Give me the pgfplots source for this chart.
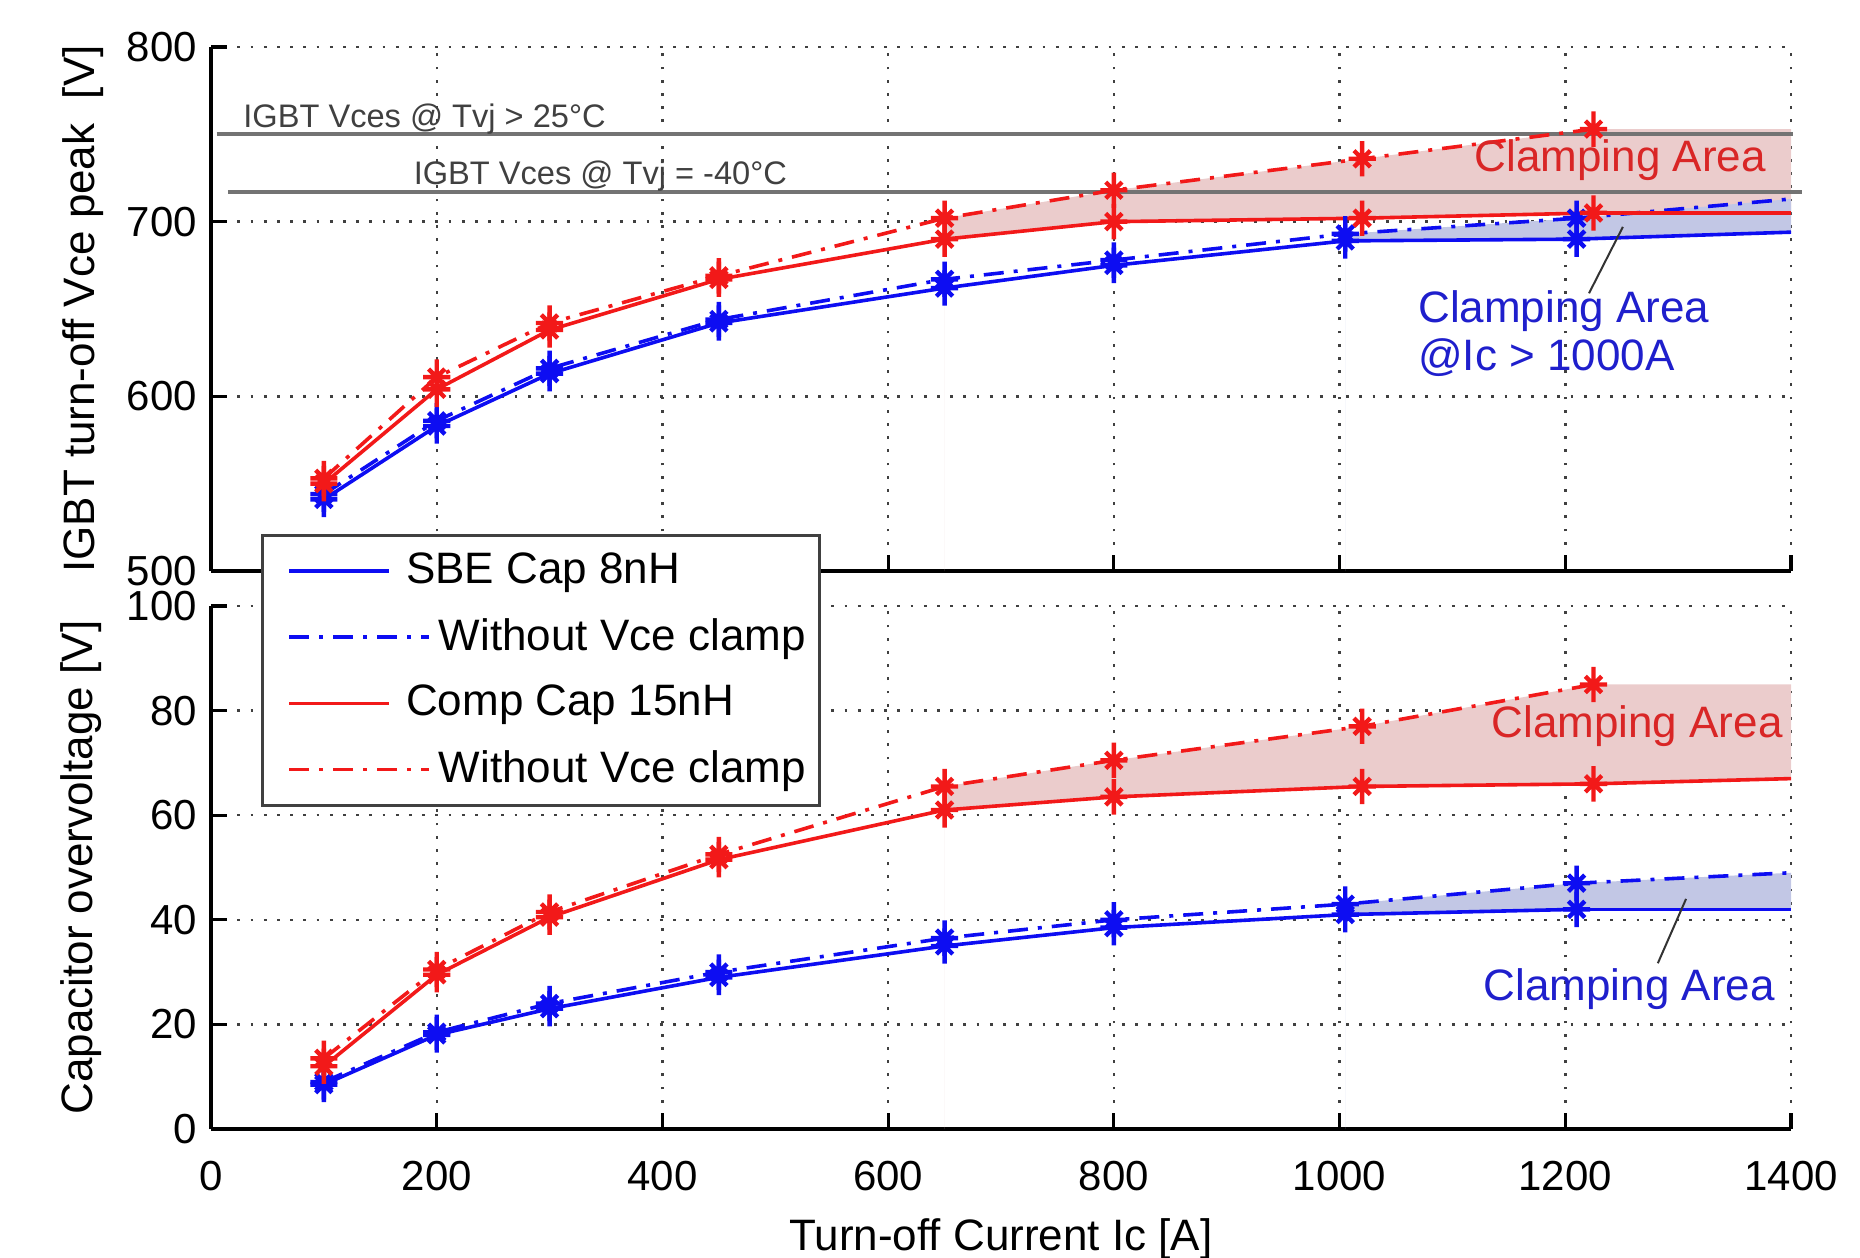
\documentclass[border=0pt]{standalone}
\usepackage{pgfplots}
\pgfplotsset{compat=1.18}
\usepackage{fontspec}
\setmainfont{Liberation Sans}
\definecolor{myblue}{rgb}{0.05,0.05,0.95}
\definecolor{myred}{rgb}{0.95,0.1,0.1}
\definecolor{fillred}{rgb}{0.92,0.80,0.80}
\definecolor{fillblue}{rgb}{0.76,0.78,0.90}
\definecolor{txtred}{rgb}{0.85,0.15,0.15}
\definecolor{txtblue}{rgb}{0.12,0.12,0.80}
\pgfdeclareplotmark{mstar}{%
  \pgfpathmoveto{\pgfqpoint{0pt}{1.3\pgfplotmarksize}}\pgfpathlineto{\pgfqpoint{0pt}{-1.3\pgfplotmarksize}}%
  \pgfpathmoveto{\pgfqpoint{\pgfplotmarksize}{0pt}}\pgfpathlineto{\pgfqpoint{-\pgfplotmarksize}{0pt}}%
  \pgfpathmoveto{\pgfqpoint{0.6\pgfplotmarksize}{0.6\pgfplotmarksize}}\pgfpathlineto{\pgfqpoint{-0.6\pgfplotmarksize}{-0.6\pgfplotmarksize}}%
  \pgfpathmoveto{\pgfqpoint{0.6\pgfplotmarksize}{-0.6\pgfplotmarksize}}\pgfpathlineto{\pgfqpoint{-0.6\pgfplotmarksize}{0.6\pgfplotmarksize}}%
  \pgfusepathqstroke}
\pgfplotsset{
  mybase/.style={
    scale only axis, width=395pt, anchor=south west,
    xmin=0, xmax=1400, xtick={0,200,...,1400},
    axis x line*=bottom, axis y line*=left, tick align=inside,
    grid=major, grid style={black!75, line width=0.6pt, dash pattern=on 0.7pt off 2.6pt},
    axis line style={black, line width=0.9pt},
    major tick length=4pt, every tick/.style={black, line width=0.8pt},
    tick label style={font=\fontsize{10.5}{12}\selectfont},
    xticklabel style={yshift=-4.4pt},
    label style={font=\fontsize{11}{13}\selectfont},
    /pgf/number format/assume math mode=true,
    /pgf/number format/1000 sep={},
  },
  sol/.style={line width=0.9pt, mark=mstar, mark size=3.4pt, mark options={solid, line width=1.1pt}},
  dd/.style={line width=0.9pt, dash pattern=on 5pt off 2.5pt on 1pt off 2.5pt, mark=mstar, mark size=3.4pt, mark options={solid, line width=1.1pt}},
  legS/.style={legend image code/.code={\path[draw=none,fill=none] (0pt,0pt) rectangle (40.2pt,0.1pt); \draw[##1] (5.2pt,0pt) -- (30.2pt,0pt);}},
  legL/.style={legend image code/.code={\path[draw=none,fill=none] (0pt,0pt) rectangle (40.2pt,0.1pt); \draw[##1] (5.2pt,0pt) -- (40.2pt,0pt);}},
}
\begin{document}
\begin{tikzpicture}
\useasboundingbox (0,0) rectangle (465pt,314.25pt);
% ---------------- top axis
\begin{axis}[mybase, at={(52.75pt,171.5pt)}, height=131pt,
  ymin=500, ymax=800, ytick={500,600,700,800}, xticklabels={}, clip=false,
  ylabel={IGBT turn-off Vce peak\ \ [V]},
  ylabel style={at={(axis description cs:-0.081,0.5)}, anchor=center}]
\addplot[fill=fillred, draw=none, forget plot] coordinates {
 (650,702) (800,718) (1020,736) (1225,753) (1400,753)
 (1400,705) (1225,705) (1020,702) (800,700) (650,690)} \closedcycle;
\addplot[fill=fillblue, draw=none, forget plot] coordinates {
 (1005,693) (1210,702) (1400,713)
 (1400,694) (1210,690) (1005,689)} \closedcycle;
\addplot[black!55, line width=1pt, forget plot] coordinates {(5,750) (1402,750)};
\addplot[black!55, line width=1pt, forget plot] coordinates {(15,717) (1410,717)};
\addplot[myblue, sol] coordinates {(100,541) (200,583) (300,613) (450,642) (650,662) (800,675) (1005,689) (1210,690)};
\addplot[myblue, line width=0.9pt, forget plot] coordinates {(1210,690) (1400,694)};
\addplot[myblue, dd] coordinates {(100,544) (200,586) (300,616) (450,644) (650,667) (800,678) (1005,693) (1210,702)};
\addplot[myblue, line width=0.9pt, dash pattern=on 5pt off 2.5pt on 1pt off 2.5pt, forget plot] coordinates {(1210,702) (1400,713)};
\addplot[myred, sol] coordinates {(100,550) (200,604) (300,638) (450,667) (650,690) (800,700) (1020,702) (1225,705)};
\addplot[myred, line width=0.9pt, forget plot] coordinates {(1225,705) (1400,705)};
\addplot[myred, dd] coordinates {(100,553) (200,611) (300,642) (450,669) (650,702) (800,718) (1020,736) (1225,753)};
\node[anchor=west, text=black!75, font=\fontsize{8.15}{10}\selectfont, inner sep=0pt] at (axis cs:28,759) {IGBT Vces @ Tvj > 25°C};
\node[anchor=west, text=black!75, font=\fontsize{8.15}{10}\selectfont, inner sep=0pt] at (axis cs:179,726) {IGBT Vces @ Tvj = -40°C};
\node[anchor=west, text=txtred, font=\fontsize{11}{13}\selectfont, inner sep=0pt] at (axis cs:1119,735) {Clamping Area};
\node[anchor=west, text=txtblue, font=\fontsize{11}{13}\selectfont, inner sep=0pt] at (axis cs:1069,649) {Clamping Area};
\node[anchor=west, text=txtblue, font=\fontsize{11}{13}\selectfont, inner sep=0pt] at (axis cs:1069,622) {@Ic > 1000A};
\draw[black!80, line width=0.5pt] (axis cs:1251,697) -- (axis cs:1221,659);
\end{axis}
% ---------------- bottom axis
\begin{axis}[mybase, at={(52.75pt,32pt)}, height=130.75pt,
  ymin=0, ymax=100, ytick={0,20,...,100},
  ylabel={Capacitor overvoltage [V]},
  ylabel style={at={(axis description cs:-0.082,0.5)}, anchor=center},
  xlabel={Turn-off Current Ic [A]},
  xlabel style={at={(axis description cs:0.5,-0.21)}, anchor=center},
  legend cell align=left,
  legend style={at={(axis description cs:0.0315,1.1377)}, anchor=north west,
    draw=black!75, line width=0.8pt, fill=white, font=\fontsize{11}{13}\selectfont,
    row sep=3.2pt, inner xsep=1.5pt, inner ysep=2.3pt}]
\addplot[fill=fillred, draw=none, forget plot] coordinates {
 (650,65.5) (800,70.5) (1020,77) (1225,85) (1400,85)
 (1400,67) (1225,66) (1020,65.5) (800,63.5) (650,61)} \closedcycle;
\addplot[fill=fillblue, draw=none, forget plot] coordinates {
 (1005,43) (1210,47) (1400,49)
 (1400,42) (1210,42) (1005,41)} \closedcycle;
\addplot[myblue, sol, legS] coordinates {(100,8.5) (200,18) (300,23) (450,29) (650,35) (800,38.5) (1005,41) (1210,42)};
\addlegendentry{\hspace{-8.2pt}SBE Cap 8nH}
\addplot[myblue, line width=0.9pt, forget plot] coordinates {(1210,42) (1400,42)};
\addplot[myblue, dd, legL] coordinates {(100,9) (200,18.5) (300,24) (450,30) (650,36.5) (800,40) (1005,43) (1210,47)};
\addlegendentry{Without Vce clamp}
\addplot[myblue, line width=0.9pt, dash pattern=on 5pt off 2.5pt on 1pt off 2.5pt, forget plot] coordinates {(1210,47) (1400,49)};
\addplot[myred, sol, legS] coordinates {(100,12) (200,29.5) (300,40.5) (450,51.5) (650,61) (800,63.5) (1020,65.5) (1225,66)};
\addlegendentry{\hspace{-8.2pt}Comp Cap 15nH}
\addplot[myred, line width=0.9pt, forget plot] coordinates {(1225,66) (1400,67)};
\addplot[myred, dd, legL] coordinates {(100,13.5) (200,30.5) (300,41.5) (450,52.5) (650,65.5) (800,70.5) (1020,77) (1225,85)};
\addlegendentry{Without Vce clamp}
\node[anchor=west, text=txtred, font=\fontsize{11}{13}\selectfont, inner sep=0pt] at (axis cs:1134,77) {Clamping Area};
\node[anchor=west, text=txtblue, font=\fontsize{11}{13}\selectfont, inner sep=0pt] at (axis cs:1127,26.8) {Clamping Area};
\draw[black!80, line width=0.5pt] (axis cs:1307,44) -- (axis cs:1282,31.7);
\end{axis}
\end{tikzpicture}
\end{document}
